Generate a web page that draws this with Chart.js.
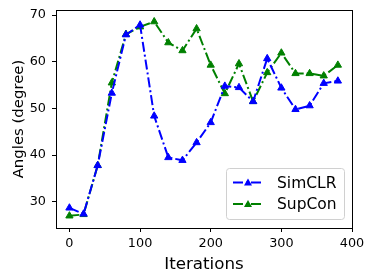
<!DOCTYPE html>
<html><head><meta charset="utf-8">
<script src="https://cdn.jsdelivr.net/npm/chart.js@4"></script>
<style>html,body{margin:0;padding:0;background:#fff}#wrap{width:374px;height:280px}</style>
</head><body><div id="wrap"><canvas id="c" width="374" height="280"></canvas></div>
<script>
const iterations = [0,20,40,60,80,100,120,140,160,180,200,220,240,260,280,300,320,340,360,380];
const simclr = [28.7,27.4,37.8,53.3,65.8,67.9,48.4,39.5,38.9,42.7,47.0,54.8,54.5,51.5,60.7,54.4,49.8,50.6,55.4,55.9];
const supcon = [27.0,27.3,37.8,55.5,65.9,67.5,68.6,64.1,62.4,67.1,59.3,53.2,59.6,51.5,57.7,61.9,57.5,57.5,57.0,59.3];
const xTicks = [0,100,200,300,400];
const yTicks = [30,40,50,60,70];
const FONT = "'DejaVu Sans', sans-serif";
const DASH = [10,3,2,3];

const mk = (label, vals, color) => ({
  label, data: iterations.map((x,i)=>({x, y: vals[i]})),
  borderColor: color, backgroundColor: color, borderWidth: 2,
  borderDash: DASH, pointStyle: 'triangle', pointRadius: 4.2,
  pointBorderWidth: 1, pointBorderColor: color, pointBackgroundColor: color,
  tension: 0, fill: false
});

const frame = {
  id: 'frame',
  afterDatasetsDraw(chart) {
    const {ctx, chartArea: a} = chart;
    ctx.save();
    ctx.strokeStyle = '#000'; ctx.lineWidth = 1;
    ctx.strokeRect(Math.round(a.left)+0.5, Math.round(a.top)+0.5, Math.round(a.right-a.left), Math.round(a.bottom-a.top));
    // legend
    const lx = 226, ly = 168, lw = 118, lh = 51;
    ctx.fillStyle = 'rgba(255,255,255,0.8)';
    ctx.strokeStyle = '#d0d0d0';
    ctx.beginPath();
    if (ctx.roundRect) ctx.roundRect(lx+0.5, ly+0.5, lw, lh, 3); else ctx.rect(lx+0.5, ly+0.5, lw, lh);
    ctx.fill(); ctx.stroke();
    chart.data.datasets.forEach((ds, i) => {
      const y = ly + 14.5 + i*21.5;
      ctx.strokeStyle = ds.borderColor; ctx.lineWidth = 2;
      ctx.setLineDash(DASH);
      ctx.beginPath(); ctx.moveTo(233, y); ctx.lineTo(263, y); ctx.stroke();
      ctx.setLineDash([]);
      ctx.fillStyle = ds.borderColor;
      ctx.beginPath(); ctx.moveTo(248, y-4); ctx.lineTo(252, y+3); ctx.lineTo(244, y+3); ctx.closePath(); ctx.fill();
      ctx.fillStyle = '#000'; ctx.font = '15.5px ' + FONT; ctx.textBaseline = 'middle';
      ctx.fillText(ds.label, 277, y+1);
    });
    ctx.restore();
  }
};

new Chart(document.getElementById('c'), {
  type: 'line',
  data: { datasets: [mk('SimCLR', simclr, '#0000ff'), mk('SupCon', supcon, '#008000')] },
  options: {
    responsive: false, animation: false, devicePixelRatio: 1,
    layout: { padding: { top: 10, right: 22, left: 0, bottom: 0 } },
    plugins: { legend: { display: false }, tooltip: { enabled: false } },
    scales: {
      x: {
        type: 'linear', min: -19, max: 400,
        afterBuildTicks: s => { s.ticks = xTicks.map(v => ({value: v})); },
        afterFit: s => { s.height = 52; s.paddingLeft = 0; s.paddingRight = 0; },
        grid: { display: true, drawOnChartArea: false, drawTicks: true, tickLength: 4, color: '#000', tickColor: '#000' },
        border: { display: true, color: '#000', width: 1 },
        ticks: { color: '#000', font: { family: FONT, size: 12.8 }, padding: 4, maxRotation: 0 },
        title: { display: true, text: 'Iterations', color: '#000', font: { family: FONT, size: 16.7 }, padding: { top: 2, bottom: 5 } }
      },
      y: {
        type: 'linear', min: 24.4, max: 71.1,
        afterBuildTicks: s => { s.ticks = yTicks.map(v => ({value: v})); },
        afterFit: s => { s.width = 56; s.paddingTop = 0; s.paddingBottom = 0; },
        grid: { display: true, drawOnChartArea: false, drawTicks: true, tickLength: 4, color: '#000', tickColor: '#000' },
        border: { display: true, color: '#000', width: 1 },
        ticks: { color: '#000', font: { family: FONT, size: 12.8 }, padding: 6 },
        title: { display: true, text: 'Angles (degree)', color: '#000', font: { family: FONT, size: 14.9 }, padding: { top: 10, bottom: 4 } }
      }
    }
  },
  plugins: [frame]
});
</script></body></html>
